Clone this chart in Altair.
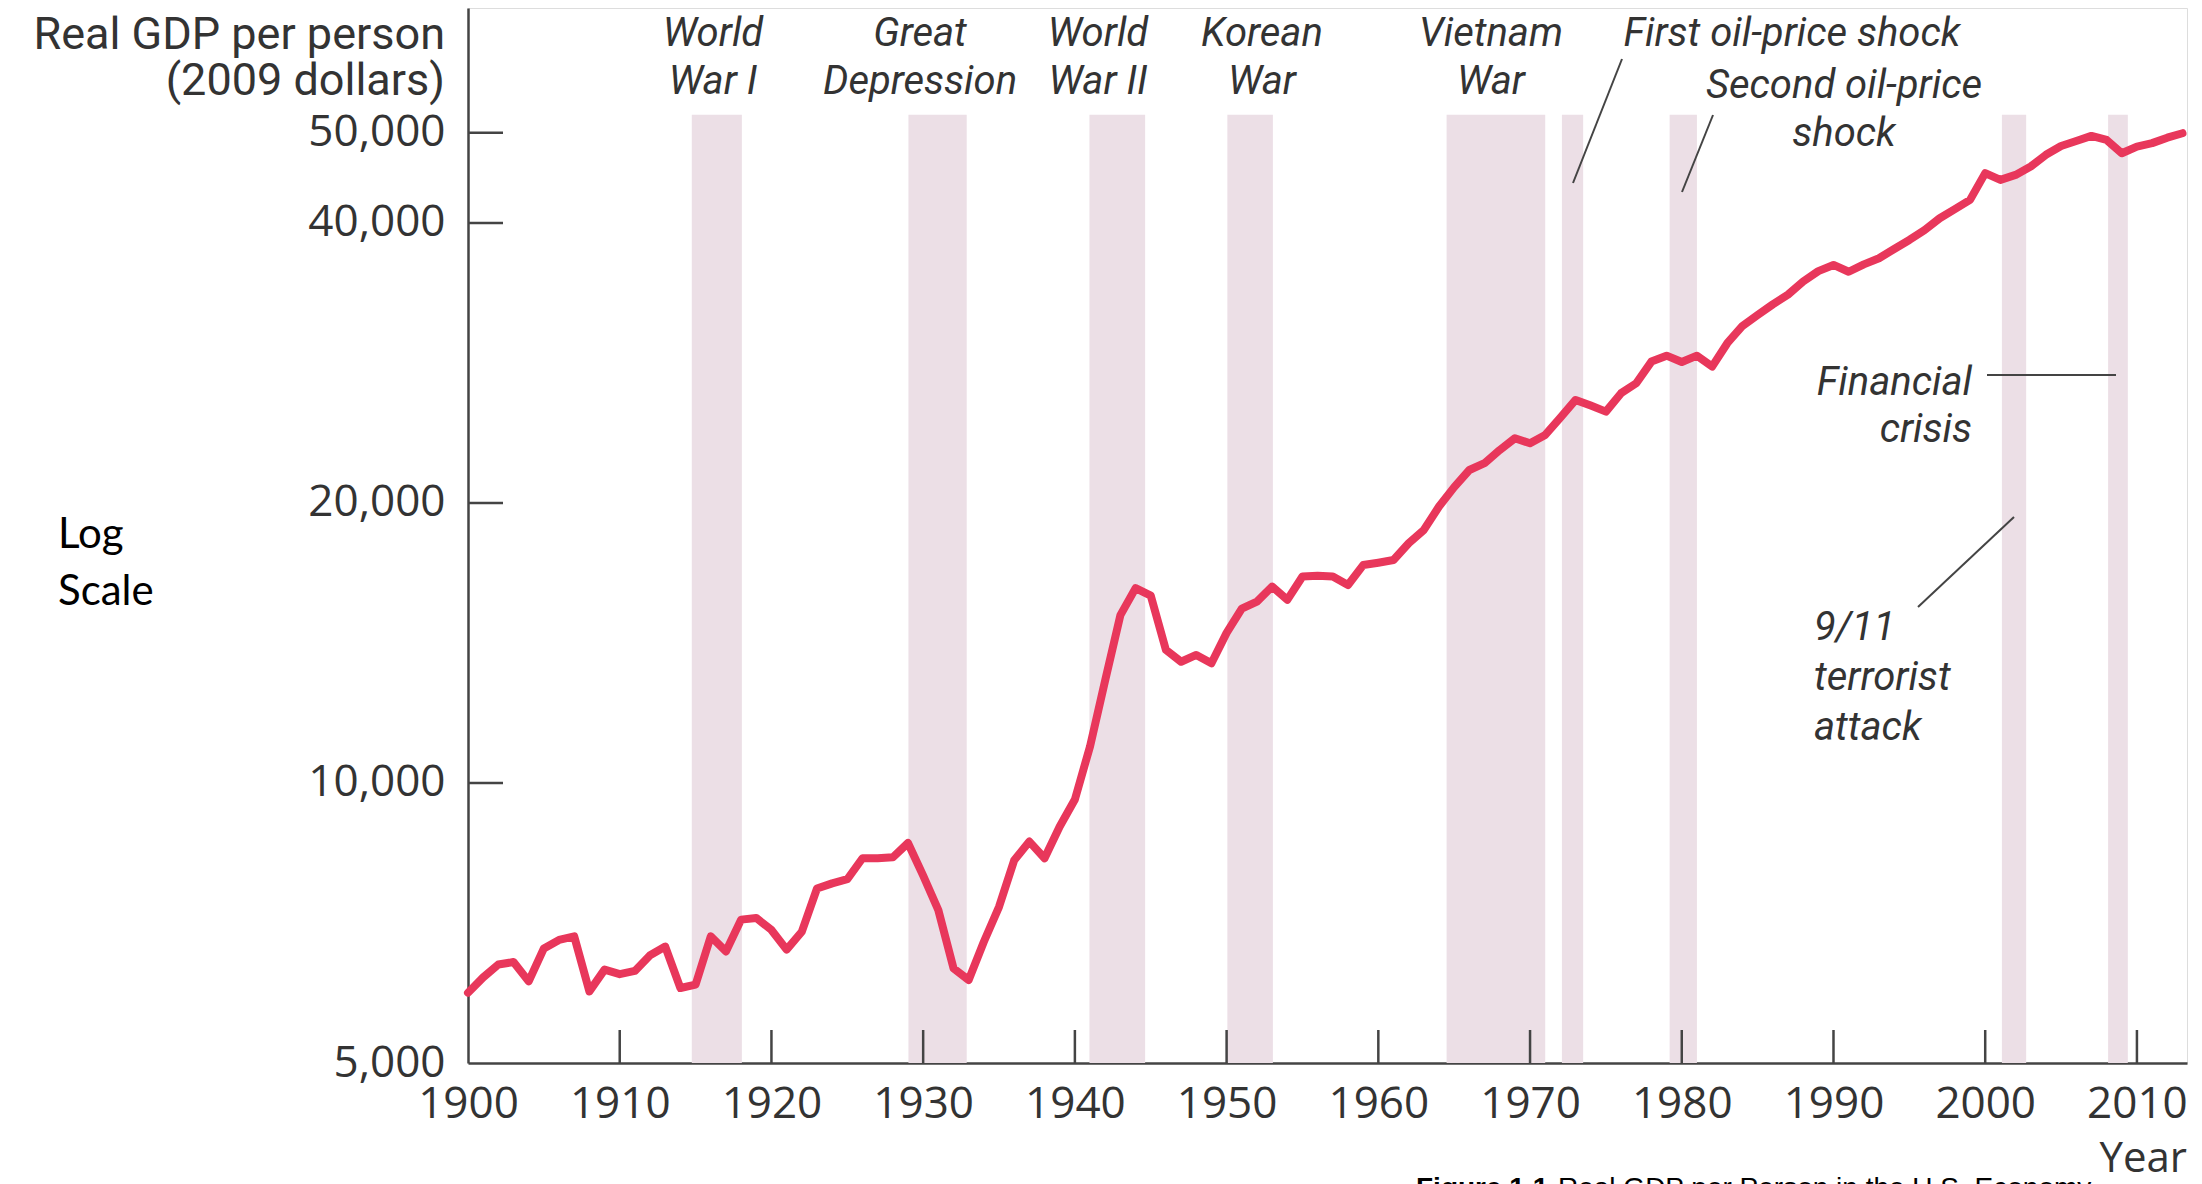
import altair as alt
import pandas as pd

# ---------------- data ----------------
years = list(range(1900, 2014))
gdp_per_person = [
    5950, 6180, 6380, 6420, 6120, 6640, 6780, 6840, 5970, 6300,   # 1900s
    6230, 6280, 6530, 6670, 6020, 6070, 6840, 6590, 7130, 7160,   # 1910s
    6950, 6620, 6920, 7700, 7800, 7880, 8300, 8300, 8320, 8620,   # 1920s
    7950, 7300, 6320, 6140, 6750, 7360, 8260, 8650, 8300, 8980,   # 1930s
    9600, 10950, 12900, 15150, 16200, 15900, 13900, 13500, 13730, 13450,  # 1940s
    14500, 15400, 15670, 16260, 15735, 16670, 16700, 16670, 16325, 17150,  # 1950s
    17250, 17365, 18100, 18710, 19825, 20800, 21700, 22070, 22800, 23475,  # 1960s
    23185, 23670, 24700, 25810, 25450, 25075, 26245, 26900, 28380, 28800,  # 1970s
    28350, 28800, 28030, 29700, 31000, 31850, 32700, 33500, 34600, 35500,  # 1980s
    36050, 35450, 36100, 36650, 37500, 38350, 39300, 40470, 41400, 42350,  # 1990s
    45250, 44500, 45050, 46000, 47350, 48400, 49000, 49620, 49120, 47530,  # 2000s
    48330, 48740, 49400, 49950,                                            # 2010s
]
assert len(years) == len(gdp_per_person)

band_names = ["World War I", "Great Depression", "World War II", "Korean War",
              "Vietnam War", "First oil-price shock", "Second oil-price shock",
              "9/11 terrorist attack", "Financial crisis"]
band_start = [1914.75, 1929.03, 1940.96, 1950.05, 1964.5, 1972.1, 1979.2, 2001.1, 2008.1]
band_end = [1918.05, 1932.87, 1944.63, 1953.05, 1971.0, 1973.5, 1981.0, 2002.7, 2009.4]
band_top = [52300] * len(band_names)

x_tick_values = list(range(1900, 2011, 10))
y_tick_values = [5000, 10000, 20000, 40000, 50000]
x_inner_ticks = list(range(1910, 2011, 10))
y_inner_ticks = [10000, 20000, 40000, 50000]

# ---------------- styling ----------------
W, H = 1719, 1055
LINE_COLOR = "#e8375b"
BAND_COLOR = "#ecdfe6"
TEXT_COLOR = "#333333"
AXIS_COLOR = "#444444"
LABEL_FONT = "Open Sans"
ANNOT_FONT = "Roboto"

df = pd.DataFrame({"year": years, "gdp": gdp_per_person})
bands = pd.DataFrame({"name": band_names, "start": band_start, "end": band_end, "top": band_top})
xt = pd.DataFrame({"year": x_inner_ticks})
yt = pd.DataFrame({"gdp": y_inner_ticks})

xscale = alt.Scale(domain=[1900, 2013.3], nice=False, zero=False)
yscale = alt.Scale(type="log", domain=[5000, 68100], nice=False, zero=False)

band_layer = alt.Chart(bands).mark_rect(color=BAND_COLOR).encode(
    x=alt.X("start:Q", scale=xscale),
    x2="end:Q",
    y=alt.Y("top:Q", scale=yscale),
    y2=alt.datum(5000),
)

line_layer = alt.Chart(df).mark_line(
    color=LINE_COLOR, strokeWidth=8, strokeJoin="round", strokeCap="round"
).encode(
    x=alt.X("year:Q", scale=xscale,
            axis=alt.Axis(values=x_tick_values, format="d", title=None, grid=False,
                          ticks=False, labelFont=LABEL_FONT, labelFontSize=44,
                          labelColor=TEXT_COLOR, labelPadding=19, domainColor=AXIS_COLOR,
                          domainWidth=2.5, labelFlush=False, labelOverlap=False)),
    y=alt.Y("gdp:Q", scale=yscale,
            axis=alt.Axis(values=y_tick_values, format=",", title=None, grid=False,
                          ticks=False, labelFont=LABEL_FONT, labelFontSize=44,
                          labelColor=TEXT_COLOR, labelPadding=23,
                          domainColor=AXIS_COLOR, domainWidth=2.5,
                          labelFlush=False, labelOverlap=False)),
)

xtick_layer = alt.Chart(xt).mark_rule(color=AXIS_COLOR, strokeWidth=2.5).encode(
    x=alt.X("year:Q", scale=xscale),
    y=alt.value(H),
    y2=alt.value(H - 33),
)
ytick_layer = alt.Chart(yt).mark_rule(color=AXIS_COLOR, strokeWidth=2.5).encode(
    y=alt.Y("gdp:Q", scale=yscale),
    x=alt.value(0),
    x2=alt.value(35),
)


def label(text, x, y, align="center", size=40, font=ANNOT_FONT, style="italic",
          weight="normal", color=TEXT_COLOR, line_height=48):
    return alt.Chart(pd.DataFrame({"t": [text]})).mark_text(
        align=align, baseline="alphabetic", font=font, fontSize=size,
        fontStyle=style, fontWeight=weight, color=color,
        lineBreak="\n", lineHeight=line_height,
    ).encode(x=alt.value(x), y=alt.value(y), text="t:N")


def leader(x1, y1, x2, y2):
    return alt.Chart(pd.DataFrame({"a": [0]})).mark_rule(
        color="#444444", strokeWidth=2
    ).encode(x=alt.value(x1), x2=alt.value(x2), y=alt.value(y1), y2=alt.value(y2))


texts = [
    label("World\nWar I", 245, 38),
    label("Great\nDepression", 452, 38),
    label("World\nWar II", 630, 38),
    label("Korean\nWar", 794, 38),
    label("Vietnam\nWar", 1023, 38),
    label("First oil-price shock", 1324, 38),
    label("Second oil-price\nshock", 1376, 90),
    label("Financial\ncrisis", 1504, 387, align="right", line_height=47),
    label("9/11\nterrorist\nattack", 1346, 632, align="left", line_height=50),
    # y-axis title
    label("Real GDP per person\n(2009 dollars)", -23, 41, align="right", size=45,
          style="normal", line_height=46),
    # log-scale note
    label("Log\nScale", -410, 540, align="left", size=42, font="Lato", style="normal",
          color="#000000", line_height=57),
    # x-axis title
    label("Year", W, 1164, align="right", size=42, font=LABEL_FONT, style="normal"),
    # caption (cut off at bottom in the original)
    label("Figure 1.1", 948, 1189, align="left", size=28, font="Liberation Sans",
          style="normal", weight="bold", color="#000000"),
    label("Real GDP per Person in the U.S. Economy", 1090, 1189, align="left", size=28,
          font="Liberation Sans", style="normal", color="#000000"),
]

leaders = [
    leader(1154, 51, 1105, 175),
    leader(1245, 107, 1214, 184),
    leader(1519, 367, 1648, 367),
    leader(1450, 599, 1546, 509),
]

chart = alt.layer(band_layer, xtick_layer, ytick_layer, line_layer, *leaders, *texts).properties(
    width=W, height=H,
    autosize=alt.AutoSizeParams(type="none"),
    padding={"left": 460, "top": 0, "right": 7, "bottom": 121},
).configure_view(stroke=None).configure(background="white")

chart.save("out.html", embed_options={"renderer": "svg", "actions": False})
